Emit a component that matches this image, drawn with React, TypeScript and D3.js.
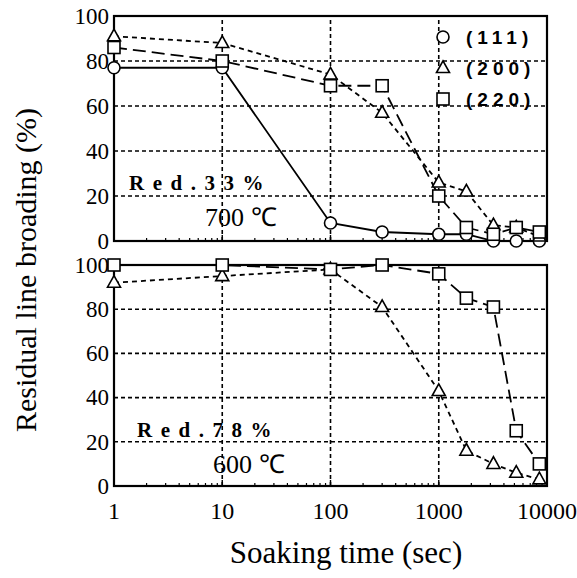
import React, { useEffect, useRef } from 'react';
import * as d3 from 'd3';

// soaking times (sec)
const times = [1, 10, 100, 300, 1000, 1800, 3200, 5200, 8500];

// Red. 33%, 700 C
const top111 = [77, 77, 8, 4, 3, 3, 0, 0, 0];
const top200 = [91, 88, 74, 57, 26, 22, 7, 6, 2];
const top220 = [86, 80, 69, 69, 20, 6, 3, 6, 4];

// Red. 78%, 600 C
const bot200 = [92, 95, 98, 81, 43, 16, 10, 6, 3];
const bot220 = [100, 100, 98, 100, 96, 85, 81, 25, 10];

const xTicks = [1, 10, 100, 1000, 10000];
const yTicks = [0, 20, 40, 60, 80, 100];
const legendLabels = ['(111)', '(200)', '(220)'];

const serif = 'Liberation Serif';
const sans = 'Liberation Sans';

const App: React.FC = () => {
  const ref = useRef<SVGSVGElement>(null);

  useEffect(() => {
    const svg = d3.select(ref.current);
    svg.selectAll('*').remove();

    const left = 114, right = 547;
    const x = d3.scaleLog().domain([1, 10000]).range([left, right]);
    const panels = [
      { y: d3.scaleLinear().domain([0, 100]).range([241, 16]), series: [
        { vals: top111, marker: 'circle', dash: null },
        { vals: top200, marker: 'triangle', dash: '5,4' },
        { vals: top220, marker: 'square', dash: '13,6' },
      ], red: 'Red.33%', temp: '700 ℃', redY: 190, tempY: 226, redX: 129, tempX: 205 },
      { y: d3.scaleLinear().domain([0, 100]).range([486, 265]), series: [
        { vals: bot200, marker: 'triangle', dash: '5,4' },
        { vals: bot220, marker: 'square', dash: '13,6' },
      ], red: 'Red.78%', temp: '600 ℃', redY: 437, tempY: 473, redX: 137, tempX: 213 },
    ];

    const drawMarker = (g: any, type: string, cx: number, cy: number) => {
      if (type === 'circle') {
        g.append('circle').attr('cx', cx).attr('cy', cy).attr('r', 6)
          .attr('fill', 'white').attr('stroke', 'black').attr('stroke-width', 1.6);
      } else if (type === 'triangle') {
        const s = 13;
        g.append('path')
          .attr('d', `M${cx},${cy - s * 0.55}L${cx + s / 2},${cy + s * 0.35}L${cx - s / 2},${cy + s * 0.35}Z`)
          .attr('fill', 'white').attr('stroke', 'black').attr('stroke-width', 1.6);
      } else {
        g.append('rect').attr('x', cx - 6).attr('y', cy - 6).attr('width', 12).attr('height', 12)
          .attr('fill', 'white').attr('stroke', 'black').attr('stroke-width', 1.6);
      }
    };

    panels.forEach((p) => {
      const y = p.y;
      const g = svg.append('g');
      const [y0, y1] = y.range();

      // grid
      yTicks.slice(1, -1).forEach((t) => {
        g.append('line').attr('x1', left).attr('x2', right).attr('y1', y(t)).attr('y2', y(t))
          .attr('stroke', 'black').attr('stroke-width', 1.6).attr('stroke-dasharray', '4,3');
      });
      xTicks.slice(1, -1).forEach((t) => {
        g.append('line').attr('x1', x(t)).attr('x2', x(t)).attr('y1', y0).attr('y2', y1)
          .attr('stroke', 'black').attr('stroke-width', 1.6).attr('stroke-dasharray', '4,3');
      });

      // minor log ticks on bottom
      const minor = d3.range(0, 4).flatMap((e) => d3.range(2, 10).map((m) => m * Math.pow(10, e)));
      minor.forEach((t) => {
        g.append('line').attr('x1', x(t)).attr('x2', x(t)).attr('y1', y0).attr('y2', y0 - 3)
          .attr('stroke', 'black').attr('stroke-width', 1.2);
      });
      xTicks.forEach((t) => {
        g.append('line').attr('x1', x(t)).attr('x2', x(t)).attr('y1', y0).attr('y2', y0 - 6)
          .attr('stroke', 'black').attr('stroke-width', 1.4);
      });

      // frame
      g.append('rect').attr('x', left).attr('y', y1).attr('width', right - left).attr('height', y0 - y1)
        .attr('fill', 'none').attr('stroke', 'black').attr('stroke-width', 2.2);

      // y tick labels
      yTicks.forEach((t) => {
        g.append('text').attr('x', left - 5).attr('y', y(t)).attr('dy', '0.34em')
          .attr('text-anchor', 'end').attr('font-family', serif).attr('font-size', 23)
          .text(t);
      });

      // series
      p.series.forEach((s) => {
        const line = d3.line<number>().x((_, i) => x(times[i])).y((v) => y(v));
        g.append('path').attr('d', line(s.vals)).attr('fill', 'none').attr('stroke', 'black')
          .attr('stroke-width', 1.8).attr('stroke-dasharray', s.dash);
      });
      p.series.forEach((s) => {
        s.vals.forEach((v, i) => drawMarker(g, s.marker, x(times[i]), y(v)));
      });

      g.append('text').attr('x', p.redX).attr('y', p.redY).attr('font-family', serif)
        .attr('font-weight', 'bold').attr('font-size', 21).attr('letter-spacing', 8.5)
        .text(p.red);
      g.append('text').attr('x', p.tempX).attr('y', p.tempY).attr('font-family', serif)
        .attr('font-size', 26).text(p.temp);
    });

    // legend
    const markers = ['circle', 'triangle', 'square'];
    legendLabels.forEach((lbl, i) => {
      const ly = 37 + i * 31;
      drawMarker(svg, markers[i], 443, ly);
      svg.append('text').attr('x', 466).attr('y', ly).attr('dy', '0.36em')
        .attr('font-family', sans).attr('font-weight', 'bold')
        .attr('font-size', 19).attr('letter-spacing', 5).text(lbl);
    });

    // x tick labels
    xTicks.forEach((t) => {
      svg.append('text').attr('x', x(t)).attr('y', 519).attr('text-anchor', 'middle')
        .attr('font-family', serif).attr('font-size', 24).text(t);
    });

    svg.append('text').attr('x', 346).attr('y', 563).attr('text-anchor', 'middle')
      .attr('font-family', serif).attr('font-size', 31).text('Soaking time (sec)');

    svg.append('text').attr('transform', 'translate(36,270) rotate(-90)').attr('text-anchor', 'middle')
      .attr('font-family', serif).attr('font-size', 30)
      .text('Residual line broading  (%)');
  }, []);

  return (
    <svg ref={ref} width={577} height={578} style={{ position: 'absolute', left: 0, top: 0, background: 'white' }} />
  );
};

export default App;
